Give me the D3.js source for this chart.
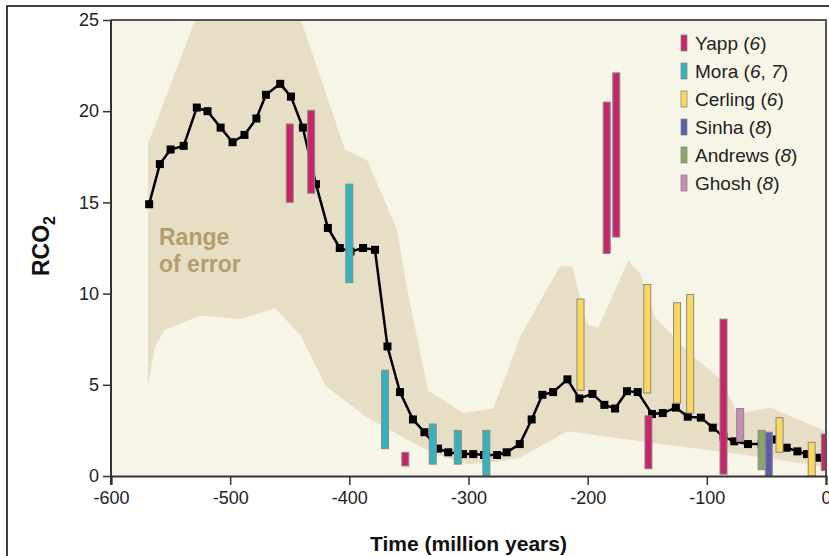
<!DOCTYPE html>
<html>
<head>
<meta charset="utf-8">
<script src="https://cdn.jsdelivr.net/npm/d3@7"></script>
<style>
  body { margin: 0; background: #fff; }
  svg { display: block; font-family: "Liberation Sans", Arial, Helvetica, sans-serif; }
</style>
</head>
<body>
<div id="chart"></div>
<script>
// modelled RCO2 curve (time in million years, negative = past)
const lineTime = [-568, -559, -550, -539, -528, -519, -508, -498, -488, -478, -470, -458, -449, -439, -428, -418, -408, -399, -388.5, -378.5,
  -368, -357.5, -346.6, -337, -325.6, -317, -304.6, -296, -287, -276, -268, -257, -247, -238, -229, -217, -207, -196, -186, -177,
  -167, -158, -146, -137, -126, -116, -105, -95, -86, -77, -65.5, -54, -44, -33, -24, -16, -6, 0];
const lineRco2 = [14.9, 17.1, 17.9, 18.1, 20.2, 20.0, 19.1, 18.3, 18.7, 19.6, 20.9, 21.5, 20.8, 19.1, 16.0, 13.6, 12.5, 12.3, 12.5, 12.4,
  7.1, 4.6, 3.1, 2.4, 1.5, 1.3, 1.2, 1.2, 1.15, 1.15, 1.3, 1.75, 3.1, 4.45, 4.6, 5.3, 4.25, 4.5, 3.9, 3.7,
  4.65, 4.6, 3.4, 3.45, 3.75, 3.25, 3.2, 2.65, 2.15, 1.9, 1.75, 1.75, 2.0, 1.55, 1.35, 1.2, 1.0, 0.85];

// range of error envelope
const upperTime = [-569, -529.5, -440.6, -403.6, -385, -360, -351.6, -334, -304.6, -279.4, -267.7, -256.8, -240, -223, -213, -200.6, -191.3, -166, -156, -143.5, -114, -86.4, -74.7, -47, 0];
const upperRco2 = [18.2, 25, 25, 17.9, 17.3, 13.5, 10.3, 4.7, 3.45, 3.7, 5.65, 7.6, 9.6, 11.5, 11.5, 8.35, 8.1, 11.8, 11.1, 8.7, 6.7, 5.2, 3.4, 3.75, 2.45];
const lowerTime = [-569, -563, -555, -525, -492, -462, -441, -420, -385, -330, -301, -274, -257, -217, -139, -89, 0];
const lowerRco2 = [4.95, 7.1, 8.0, 8.8, 8.6, 9.2, 7.7, 4.95, 3.2, 1.25, 0.65, 0.8, 1.0, 2.45, 1.75, 1.35, 0.5];

// proxy estimates
const barSource = ['Yapp', 'Yapp', 'Yapp', 'Yapp', 'Yapp', 'Yapp', 'Yapp', 'Yapp',
  'Mora', 'Mora', 'Mora', 'Mora', 'Mora',
  'Cerling', 'Cerling', 'Cerling', 'Cerling', 'Cerling', 'Cerling',
  'Sinha', 'Andrews', 'Ghosh'];
const barTime = [-450, -432, -353, -184, -176, -149, -86, -1,
  -400, -370, -330, -309, -285,
  -206, -150, -125, -114, -39, -12,
  -48, -54, -72];
const barLow = [15.0, 15.5, 0.55, 12.2, 13.1, 0.4, 0.1, 0.3,
  10.6, 1.5, 0.65, 0.65, 0.05,
  4.7, 4.55, 4.0, 3.45, 1.3, 0.0,
  0.0, 0.35, 1.9];
const barHigh = [19.3, 20.05, 1.3, 20.5, 22.1, 3.3, 8.6, 2.3,
  16.0, 5.8, 2.85, 2.5, 2.5,
  9.7, 10.5, 9.5, 9.95, 3.2, 1.85,
  2.4, 2.5, 3.7];

const sources = ['Yapp', 'Mora', 'Cerling', 'Sinha', 'Andrews', 'Ghosh'];
const sourceRefs = [['6'], ['6', '7'], ['6'], ['8'], ['8'], ['8']];
const sourceColors = ['#c8246c', '#35b2c0', '#fbd75e', '#5b5dac', '#89a66a', '#c68bb8'];

const xTicks = [-600, -500, -400, -300, -200, -100, 0];
const yTicks = [0, 5, 10, 15, 20, 25];

const width = 829, height = 556;
const margin = { top: 20, right: 3, bottom: 80, left: 111 };

const svg = d3.select('#chart').append('svg')
  .attr('width', width)
  .attr('height', height);

// outer frame
svg.append('rect')
  .attr('x', 7).attr('y', 6)
  .attr('width', width + 10).attr('height', height + 10)
  .attr('fill', 'none')
  .attr('stroke', '#000')
  .attr('stroke-width', 1.5);

const x = d3.scaleLinear().domain([-600, 0]).range([margin.left, width - margin.right]);
const y = d3.scaleLinear().domain([0, 25]).range([height - margin.bottom, margin.top]);

svg.append('defs').append('clipPath').attr('id', 'plot-clip')
  .append('rect')
  .attr('x', x(-600)).attr('y', y(25))
  .attr('width', x(0) - x(-600)).attr('height', y(0) - y(25));

svg.append('rect')
  .attr('x', x(-600)).attr('y', y(25))
  .attr('width', x(0) - x(-600)).attr('height', y(0) - y(25))
  .attr('fill', '#f6f5e7');

const plot = svg.append('g').attr('clip-path', 'url(#plot-clip)');

// error band: upper edge left->right then lower edge right->left
const bandPts = upperTime.map((t, i) => [x(t), y(upperRco2[i])])
  .concat(lowerTime.map((t, i) => [x(t), y(lowerRco2[i])]).reverse());
plot.append('path')
  .attr('d', d3.line()(bandPts) + 'Z')
  .attr('fill', '#e7dec6');

svg.append('text')
  .attr('x', 159).attr('y', 245)
  .attr('fill', '#b39d6c')
  .attr('font-size', 23).attr('font-weight', 'bold')
  .text('Range');
svg.append('text')
  .attr('x', 159).attr('y', 272)
  .attr('fill', '#b39d6c')
  .attr('font-size', 23).attr('font-weight', 'bold')
  .text('of error');

// curve
const lineData = lineTime.map((t, i) => ({ t: t, v: lineRco2[i] }));
plot.append('path')
  .datum(lineData)
  .attr('d', d3.line().x(d => x(d.t)).y(d => y(d.v)))
  .attr('fill', 'none')
  .attr('stroke', '#000')
  .attr('stroke-width', 2.5);
plot.selectAll('rect.pt')
  .data(lineData.slice(0, -1))
  .enter()
  .append('rect')
  .attr('class', 'pt')
  .attr('x', d => x(d.t) - 4)
  .attr('y', d => y(d.v) - 4)
  .attr('width', 8).attr('height', 8)
  .attr('fill', '#000');

// proxy bars
const colorOf = d3.scaleOrdinal().domain(sources).range(sourceColors);
const barData = barTime.map((t, i) => ({ s: barSource[i], t: t, lo: barLow[i], hi: barHigh[i] }));
plot.selectAll('rect.bar')
  .data(barData)
  .enter()
  .append('rect')
  .attr('class', 'bar')
  .attr('x', d => x(d.t) - 3.5)
  .attr('y', d => y(d.hi))
  .attr('width', 7)
  .attr('height', d => y(d.lo) - y(d.hi))
  .attr('fill', d => colorOf(d.s))
  .attr('stroke', '#8a8a80')
  .attr('stroke-width', 1);

// plot frame (top and right)
svg.append('path')
  .attr('d', `M${x(-600)},${y(25)}H${x(0)}V${y(0)}`)
  .attr('fill', 'none')
  .attr('stroke', '#555')
  .attr('stroke-width', 2);

// axes
const xAxis = svg.append('g')
  .attr('transform', `translate(0,${y(0)})`)
  .call(d3.axisBottom(x).tickValues(xTicks).tickFormat(d => String(d)).tickSize(9).tickPadding(6));
const yAxis = svg.append('g')
  .attr('transform', `translate(${x(-600)},0)`)
  .call(d3.axisLeft(y).tickValues(yTicks).tickFormat(d => String(d)).tickSize(8).tickPadding(4));
[xAxis, yAxis].forEach(a => {
  a.select('.domain').attr('stroke', '#333').attr('stroke-width', 2);
  a.selectAll('.tick line').attr('stroke', '#333').attr('stroke-width', 1.5);
  a.selectAll('.tick text')
    .attr('font-size', 18)
    .attr('fill', '#222')
    .attr('font-family', '"Liberation Sans", Arial, sans-serif');
});
yAxis.select('.domain').attr('d', `M0,${y(0) + 9}V${y(25)}`);

svg.append('text')
  .attr('x', (x(-600) + x(0)) / 2)
  .attr('y', 551)
  .attr('text-anchor', 'middle')
  .attr('font-size', 21).attr('font-weight', 'bold')
  .attr('fill', '#111')
  .text('Time (million years)');

const yl = svg.append('text')
  .attr('transform', 'translate(49,246) rotate(-90)')
  .attr('text-anchor', 'middle')
  .attr('font-size', 23).attr('font-weight', 'bold')
  .attr('fill', '#111');
yl.append('tspan').text('RCO');
yl.append('tspan').attr('font-size', 16).attr('dy', 6).text('2');

// legend
const legend = svg.append('g');
sources.forEach((s, i) => {
  const ly = 43 + i * 28;
  legend.append('rect')
    .attr('x', 681).attr('y', ly - 8)
    .attr('width', 6).attr('height', 16)
    .attr('fill', sourceColors[i])
    .attr('stroke', '#8a8a80').attr('stroke-width', 0.8);
  const t = legend.append('text')
    .attr('x', 695).attr('y', ly + 7)
    .attr('font-size', 19).attr('fill', '#222');
  t.append('tspan').text(s + ' (');
  sourceRefs[i].forEach((r, j) => {
    if (j > 0) t.append('tspan').text(', ');
    t.append('tspan').attr('font-style', 'italic').text(r);
  });
  t.append('tspan').text(')');
});
</script>
</body>
</html>
